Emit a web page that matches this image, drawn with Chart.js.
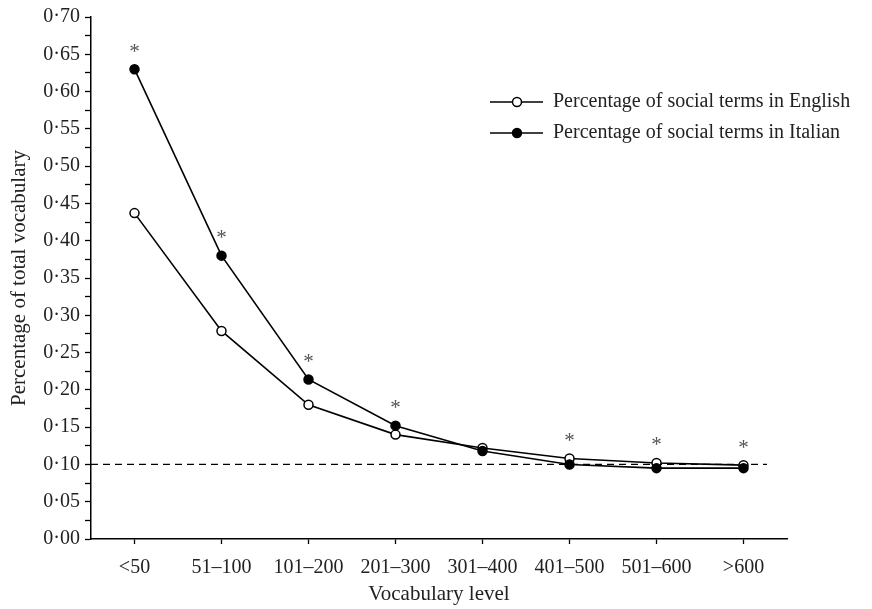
<!DOCTYPE html>
<html>
<head>
<meta charset="utf-8">
<title>Social terms by vocabulary level</title>
<script src="https://cdn.jsdelivr.net/npm/chart.js@4/dist/chart.umd.min.js"></script>
<style>
  html, body { margin: 0; padding: 0; background: #fff; }
  #wrap { width: 872px; height: 609px; }
</style>
</head>
<body>
<div id="wrap"><canvas id="grafSocial" width="872" height="609"></canvas></div>
<script>
/*======== DATOS =============*/
const categories = ['<50', '51–100', '101–200', '201–300', '301–400', '401–500', '501–600', '>600'];
const english = [0.437, 0.279, 0.180, 0.140, 0.122, 0.108, 0.102, 0.099];
const italian = [0.630, 0.380, 0.214, 0.152, 0.118, 0.100, 0.095, 0.095];
// asterisco = diferencia significativa
const significant = [true, true, true, true, false, true, true, true];
const refLevel = 0.10;
const yMin = 0, yMax = 0.70, yStep = 0.025;
const seriesNames = ['Percentage of social terms in English', 'Percentage of social terms in Italian'];

const serif = "'Liberation Serif', 'DejaVu Serif', serif";
const fmt = v => v.toFixed(2).replace('.', '·');

/*======== EXTRAS: linea de referencia, asteriscos, leyenda =============*/
const extras = {
	id: 'extras',
	beforeDatasetsDraw(chart){
		const ctx = chart.ctx, area = chart.chartArea;
		const y = chart.scales.y.getPixelForValue(refLevel);
		ctx.save();
		ctx.strokeStyle = '#000';
		ctx.lineWidth = 1.3;
		ctx.setLineDash([7, 5]);
		ctx.beginPath();
		ctx.moveTo(area.left, y);
		ctx.lineTo(area.right - 20, y);
		ctx.stroke();
		ctx.restore();
	},
	afterDatasetsDraw(chart){
		const ctx = chart.ctx;
		const xs = chart.scales.x, ys = chart.scales.y;
		ctx.save();
		// asteriscos
		ctx.fillStyle = '#555';
		ctx.font = '21px ' + serif;
		ctx.textAlign = 'center';
		ctx.textBaseline = 'middle';
		significant.forEach((s, i) => {
			if(!s) return;
			const top = Math.max(english[i], italian[i]);
			ctx.fillText('*', xs.getPixelForValue(i), ys.getPixelForValue(top) - 17);
		});
		// leyenda
		const rows = [{y: 102, fill: '#fff'}, {y: 133, fill: '#000'}];
		ctx.font = '20px ' + serif;
		ctx.textAlign = 'left';
		rows.forEach((r, i) => {
			ctx.strokeStyle = '#000';
			ctx.lineWidth = 1.5;
			ctx.beginPath();
			ctx.moveTo(490, r.y);
			ctx.lineTo(543, r.y);
			ctx.stroke();
			ctx.beginPath();
			ctx.arc(517, r.y, 4.5, 0, Math.PI * 2);
			ctx.fillStyle = r.fill;
			ctx.fill();
			ctx.stroke();
			ctx.fillStyle = '#222';
			ctx.fillText(seriesNames[i], 553, r.y);
		});
		ctx.restore();
	}
};

/*======== GRAFICA =============*/
const ctxSocial = document.getElementById('grafSocial').getContext('2d');
new Chart(ctxSocial, {
	type: 'line',
	data: {
		labels: categories,
		datasets: [{
			label: seriesNames[1],
			data: italian,
			borderColor: '#000',
			borderWidth: 1.6,
			pointRadius: 4.5,
			pointBackgroundColor: '#000',
			pointBorderColor: '#000',
			pointBorderWidth: 1.5
		}, {
			label: seriesNames[0],
			data: english,
			borderColor: '#000',
			borderWidth: 1.6,
			pointRadius: 4.5,
			pointBackgroundColor: '#fff',
			pointBorderColor: '#000',
			pointBorderWidth: 1.5
		}]
	},
	options: {
		responsive: false,
		animation: false,
		devicePixelRatio: 1,
		layout: { padding: { left: 0, top: 15, right: 85, bottom: 0 } },
		plugins: {
			legend: { display: false },
			tooltip: { enabled: false }
		},
		scales: {
			x: {
				offset: true,
				afterFit: s => { s.height = 70; },
				grid: { drawOnChartArea: false, drawTicks: true, tickLength: 5, color: '#000', tickWidth: 1.3 },
				border: { display: true, color: '#000', width: 1.5 },
				ticks: { color: '#222', font: { family: serif, size: 20 }, padding: 12, maxRotation: 0, autoSkip: false },
				title: { display: true, text: 'Vocabulary level', color: '#222', font: { family: serif, size: 21 }, padding: { top: 0, bottom: 2 } }
			},
			y: {
				min: yMin,
				max: yMax,
				afterFit: s => { s.width = 91; },
				grid: { drawOnChartArea: false, drawTicks: true, tickLength: 6, color: '#000', tickWidth: 1.3 },
				border: { display: true, color: '#000', width: 1.5 },
				ticks: {
					stepSize: yStep,
					autoSkip: false,
					color: '#222',
					padding: 5,
					font: { family: serif, size: 20 },
					callback: v => Math.abs(v * 20 - Math.round(v * 20)) < 1e-6 ? fmt(v) : ''
				},
				title: { display: true, text: 'Percentage of total vocabulary', color: '#222', font: { family: serif, size: 21 }, padding: { top: 7, bottom: 0 } }
			}
		}
	},
	plugins: [extras]
});
</script>
</body>
</html>
